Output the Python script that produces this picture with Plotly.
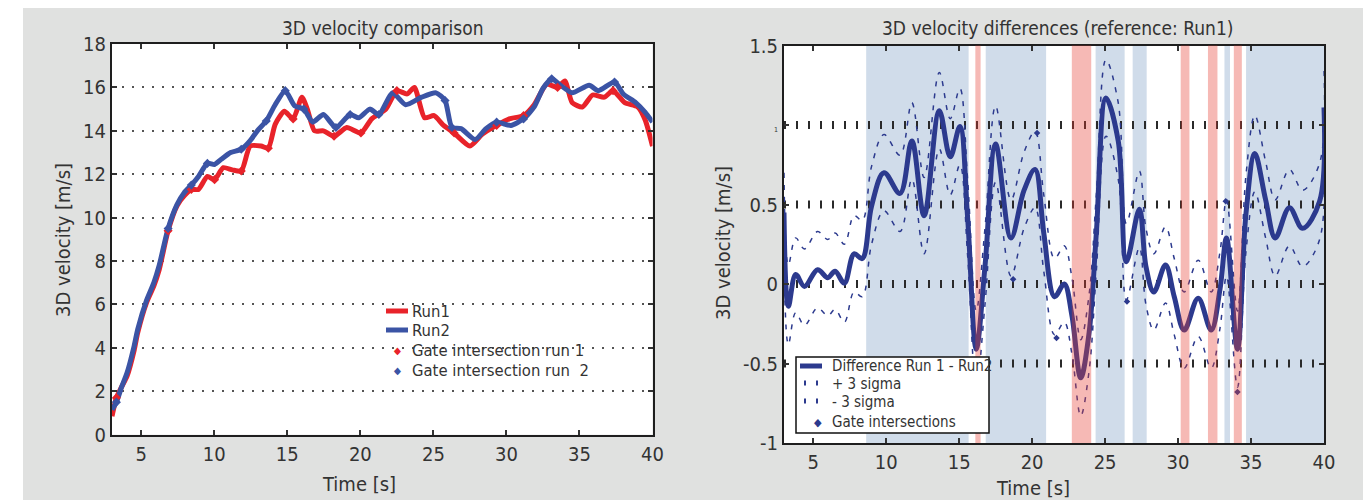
import plotly.graph_objects as go

# ---------------- data: left panel ----------------
run1_t = [3.0, 3.3, 3.66, 4.03, 4.52, 4.76, 5.37, 5.86, 6.23, 6.84, 7.45, 7.94, 8.43, 8.92, 9.53, 10.02,
          10.62, 11.24, 11.85, 12.46, 13.2, 13.7, 14.17, 14.8, 15.4, 16.0, 16.37, 16.86, 17.47, 18.2,
          19.07, 20.04, 20.78, 21.75, 22.5, 23.2, 23.7, 24.4, 25.05, 25.7, 26.42, 27.5, 28.36, 29.33,
          30.2, 31.17, 31.9, 32.76, 33.5, 34.0, 34.5, 35.2, 35.9, 36.7, 37.3, 38.1, 39.0, 39.5, 40.0]
run1_v = [0.85, 1.7, 2.2, 2.7, 3.9, 4.7, 6.1, 6.85, 7.6, 9.4, 10.55, 11.0, 11.3, 11.3, 11.9, 11.75,
          12.3, 12.2, 12.15, 13.3, 13.3, 13.2, 14.3, 14.9, 14.55, 15.55, 15.0, 14.0, 14.0, 13.75,
          14.15, 13.9, 14.55, 15.0, 15.85, 15.7, 16.0, 14.6, 14.7, 14.25, 13.9, 13.3, 13.85, 14.25,
          14.55, 14.7, 15.2, 16.15, 16.0, 16.3, 15.3, 15.1, 15.65, 15.55, 15.85, 15.3, 15.1, 14.5, 13.3]

run2_t = [3.0, 3.3, 3.66, 4.03, 4.52, 4.76, 5.37, 5.86, 6.23, 6.84, 7.45, 7.94, 8.43, 8.92, 9.53, 10.02,
          10.5, 11.12, 11.85, 12.46, 12.95, 13.56, 14.17, 14.86, 15.5, 16.13, 16.74, 17.47, 18.33, 19.3,
          19.9, 20.65, 21.27, 22.2, 23.1, 24.2, 25.18, 25.8, 26.27, 26.89, 27.86, 28.6, 29.33, 30.3,
          31.17, 31.9, 32.5, 33.1, 33.7, 34.5, 35.66, 36.3, 37.4, 38.0, 38.85, 39.5, 40.0]
run2_v = [1.15, 1.5, 2.2, 2.85, 4.1, 4.85, 6.2, 7.0, 7.8, 9.5, 10.6, 11.15, 11.5, 11.9, 12.5, 12.45,
          12.7, 13.0, 13.15, 13.55, 14.0, 14.45, 15.2, 15.85, 15.15, 15.0, 14.4, 14.75, 14.15, 14.75,
          14.6, 15.0, 14.75, 15.75, 15.2, 15.55, 15.75, 15.4, 14.15, 14.1, 13.6, 14.1, 14.4, 14.25,
          14.55, 15.1, 15.95, 16.4, 16.1, 15.75, 16.1, 15.85, 16.25, 15.7, 15.3, 14.85, 14.4]

gate1_t = [3.3, 6.84, 8.43, 10.02, 11.85, 13.7, 15.4, 18.2, 20.04, 22.5, 26.42, 29.33, 31.17, 33.5, 37.3]
gate1_v = [1.7, 9.4, 11.3, 11.75, 12.15, 13.2, 14.55, 13.75, 13.9, 15.85, 13.9, 14.25, 14.7, 16.0, 15.85]
gate2_t = [3.3, 6.84, 8.43, 9.53, 11.85, 13.56, 14.86, 16.13, 18.33, 19.3, 21.27, 25.8, 26.27, 29.33, 31.17, 33.1, 37.4]
gate2_v = [1.5, 9.5, 11.5, 12.5, 13.15, 14.45, 15.85, 15.0, 14.15, 14.75, 14.75, 15.4, 14.15, 14.4, 14.55, 16.4, 16.25]

# ---------------- data: right panel ----------------
diff_t = [3.0, 3.3, 3.8, 4.4, 5.3, 6.0, 6.5, 7.14, 7.8, 8.36, 9.0, 9.85, 10.95, 11.76, 12.6, 13.64,
          14.39, 15.05, 15.58, 16.17, 16.77, 17.5, 18.55, 19.45, 20.2, 20.8, 21.54, 22.2, 22.73, 23.33,
          23.9, 24.4, 25.06, 25.9, 26.46, 27.35, 27.8, 28.34, 29.14, 29.74, 30.42, 31.38, 32.27, 32.87,
          33.32, 34.07, 34.66, 35.26, 36.0, 36.66, 37.63, 38.53, 39.7, 40.0]
diff_v = [0.45, -0.14, 0.06, -0.015, 0.09, 0.04, 0.08, 0.005, 0.19, 0.16, 0.49, 0.70, 0.57, 0.90, 0.43, 1.09,
          0.80, 0.99, 0.42, -0.41, 0.11, 0.88, 0.29, 0.59, 0.72, 0.32, -0.08, 0.0, -0.2, -0.59,
          -0.31, 0.32, 1.17, 0.90, 0.14, 0.47, 0.11, -0.05, 0.12, -0.08, -0.29, -0.09, -0.29, -0.035,
          0.29, -0.41, 0.45, 0.82, 0.53, 0.29, 0.48, 0.35, 0.52, 1.11]
plus3_v = [0.70, 0.12, 0.29, 0.22, 0.33, 0.28, 0.32, 0.25, 0.43, 0.40, 0.74, 0.94, 0.81, 1.14, 0.67, 1.33,
           1.04, 1.23, 0.66, -0.17, 0.35, 1.12, 0.53, 0.83, 0.96, 0.56, 0.16, 0.24, 0.04, -0.35,
           -0.07, 0.56, 1.41, 1.14, 0.38, 0.71, 0.35, 0.19, 0.36, 0.16, -0.05, 0.15, -0.05, 0.20,
           0.53, -0.17, 0.69, 1.06, 0.77, 0.53, 0.72, 0.59, 0.76, 1.35]
minus3_v = [0.20, -0.38, -0.18, -0.26, -0.15, -0.20, -0.16, -0.24, -0.05, -0.08, 0.25, 0.46, 0.33, 0.66, 0.19, 0.85,
            0.56, 0.75, 0.18, -0.65, -0.13, 0.64, 0.05, 0.35, 0.48, 0.08, -0.32, -0.24, -0.44, -0.83,
            -0.55, 0.08, 0.93, 0.66, -0.10, 0.23, -0.13, -0.29, -0.12, -0.32, -0.53, -0.33, -0.53, -0.28,
            0.05, -0.65, 0.21, 0.58, 0.29, 0.05, 0.24, 0.11, 0.28, 0.87]
gateR_t = [18.7, 20.34, 21.67, 26.5, 33.27, 34.07]
gateR_v = [0.03, 0.95, -0.34, -0.11, 0.52, -0.68]

blue_bands = [(8.63, 15.65), (16.82, 20.96), (24.35, 26.34), (26.89, 27.85), (33.18, 33.56), (34.66, 40.0)]
red_bands = [(16.11, 16.47), (22.72, 24.05), (30.18, 30.78), (32.05, 32.70), (33.82, 34.37)]

x_ticks = [5, 10, 15, 20, 25, 30, 35, 40]
left_y_ticks = [0, 2, 4, 6, 8, 10, 12, 14, 16, 18]
right_y_ticks = [-1, -0.5, 0, 0.5, 1, 1.5]
right_y_text = ["-1", "-0.5", "0", "0.5", '<span style="font-size:7px">1</span>', "1.5"]
grid_levels_right = [1, 0.5, 0, -0.5]

# ---------------- styles ----------------
FONT = "DejaVu Sans Condensed, Liberation Sans Narrow, Liberation Sans, sans-serif"
TXT = "#333333"
RED = "#e8232a"
BLUE = "#3b54a5"
NAVY = "#2c3a8e"
GRAY = "#e0e1e0"
W, H = 1371, 500
OFF = 8  # page body margin


def px(x):
    return (x - OFF) / W


def py(y):
    return 1 - (y - OFF) / H


fig = go.Figure()

# left panel traces
fig.add_trace(go.Scatter(x=run1_t, y=run1_v, mode="lines", line=dict(color=RED, width=5, shape="spline", smoothing=0.6),
                         xaxis="x", yaxis="y", showlegend=False))
fig.add_trace(go.Scatter(x=run2_t, y=run2_v, mode="lines", line=dict(color=BLUE, width=5, shape="spline", smoothing=0.6),
                         xaxis="x", yaxis="y", showlegend=False))
fig.add_trace(go.Scatter(x=gate1_t, y=gate1_v, mode="markers", marker=dict(symbol="diamond", size=7, color=RED),
                         xaxis="x", yaxis="y", showlegend=False))
fig.add_trace(go.Scatter(x=gate2_t, y=gate2_v, mode="markers", marker=dict(symbol="diamond", size=7, color=BLUE),
                         xaxis="x", yaxis="y", showlegend=False))

# right panel traces
fig.add_trace(go.Scatter(x=diff_t, y=plus3_v, mode="lines", line=dict(color=NAVY, width=1.5, dash="5px,7px", shape="spline"),
                         xaxis="x2", yaxis="y2", showlegend=False))
fig.add_trace(go.Scatter(x=diff_t, y=minus3_v, mode="lines", line=dict(color=NAVY, width=1.5, dash="5px,7px", shape="spline"),
                         xaxis="x2", yaxis="y2", showlegend=False))
fig.add_trace(go.Scatter(x=diff_t, y=diff_v, mode="lines", line=dict(color=NAVY, width=5, shape="spline", smoothing=1.0),
                         xaxis="x2", yaxis="y2", showlegend=False))
fig.add_trace(go.Scatter(x=gateR_t, y=gateR_v, mode="markers", marker=dict(symbol="diamond", size=5, color=NAVY),
                         xaxis="x2", yaxis="y2", showlegend=False))

shapes = []
# white strip on the left outside the grey panel
shapes.append(dict(type="rect", xref="paper", yref="paper", x0=px(0), x1=px(23), y0=-0.1, y1=1.1,
                   fillcolor="white", line=dict(width=0), layer="below"))
# blue bands
for a, b in blue_bands:
    shapes.append(dict(type="rect", xref="x2", yref="y2 domain", x0=a, x1=b, y0=0, y1=1,
                       fillcolor="#d0dcea", line=dict(width=0), layer="below"))
# tick-style grid lines on right panel
for lv in grid_levels_right:
    shapes.append(dict(type="line", xref="x2 domain", yref="y2", x0=0, x1=1, y0=lv, y1=lv,
                       line=dict(color="#2a2a2a", width=8, dash="2px,10px"), layer="below"))
# red bands (translucent, above)
for a, b in red_bands:
    shapes.append(dict(type="rect", xref="x2", yref="y2 domain", x0=a, x1=b, y0=0, y1=1,
                       fillcolor="rgba(230,60,50,0.36)", line=dict(width=0), layer="above"))

# ---- left legend (manual) ----
shapes.append(dict(type="line", xref="paper", yref="paper", x0=px(386), x1=px(408), y0=py(311), y1=py(311),
                   line=dict(color=RED, width=5), layer="above"))
shapes.append(dict(type="line", xref="paper", yref="paper", x0=px(386), x1=px(408), y0=py(330), y1=py(330),
                   line=dict(color=BLUE, width=5), layer="above"))
# ---- right legend (manual) ----
shapes.append(dict(type="rect", xref="paper", yref="paper", x0=px(796), x1=px(989), y0=py(433), y1=py(357),
                   fillcolor="white", line=dict(color="#111111", width=1.5), layer="above"))
shapes.append(dict(type="line", xref="paper", yref="paper", x0=px(800), x1=px(822), y0=py(366), y1=py(366),
                   line=dict(color=NAVY, width=5), layer="above"))
for yy in (383, 401):
    shapes.append(dict(type="line", xref="paper", yref="paper", x0=px(804), x1=px(822), y0=py(yy), y1=py(yy),
                       line=dict(color=NAVY, width=5, dash="2px,10px"), layer="above"))

annotations = []


def txt(x, y, s, size, xanchor="left", yanchor="middle", angle=0, color=TXT):
    annotations.append(dict(text=s, x=px(x), y=py(y), xref="paper", yref="paper", showarrow=False,
                            xanchor=xanchor, yanchor=yanchor, textangle=angle,
                            font=dict(family=FONT, size=size, color=color)))


# titles and axis titles
txt(383, 28, "3D velocity comparison", 19, "center")
txt(1057, 28, "3D velocity differences (reference: Run1)", 19, "center")
txt(359, 484, "Time [s]", 20, "center")
txt(1033, 488, "Time [s]", 20, "center")
txt(63, 240, "3D velocity [m/s]", 20, "center", angle=-90)
txt(723, 243, "3D velocity [m/s]", 20, "center", angle=-90)

# left legend texts
txt(410, 311, "Run1", 16.5)
txt(410, 330, "Run2", 16.5)
txt(410, 350, "Gate intersection run 1", 16.5)
txt(410, 370, "Gate intersection run  2", 16.5)
txt(397, 350, "◆", 10, "center", color=RED)
txt(397, 370, "◆", 10, "center", color=BLUE)
# right legend texts
txt(830, 366, "Difference Run 1 - Run2", 15)
txt(830, 384, "+ 3 sigma", 15)
txt(830, 402, "- 3 sigma", 15)
txt(830, 422, "Gate intersections", 15)
txt(818, 422, "◆", 11, "center", color=NAVY)

axis_common = dict(showline=True, linecolor="#1e1e1e", linewidth=2, mirror="ticks", ticks="inside",
                   ticklen=5, tickcolor="#333333", tickwidth=1.5, zeroline=False,
                   tickfont=dict(family=FONT, size=20, color=TXT))

fig.update_layout(
    width=W, height=H,
    margin=dict(l=0, r=0, t=0, b=0, autoexpand=False),
    paper_bgcolor=GRAY, plot_bgcolor="white",
    showlegend=False,
    xaxis=dict(domain=[px(112), px(652.5)], range=[3, 40], tickvals=x_ticks, showgrid=False,
               anchor="y", **axis_common),
    yaxis=dict(domain=[py(434.7), py(44)], range=[0, 18], tickvals=left_y_ticks, showgrid=True,
               gridcolor="#555555", gridwidth=1.5, griddash="1.5px,8.5px", anchor="x", **axis_common),
    xaxis2=dict(domain=[px(784), px(1324)], range=[3, 40], tickvals=x_ticks, showgrid=False,
                anchor="y2", **axis_common),
    yaxis2=dict(domain=[py(443), py(45.5)], range=[-1, 1.5], tickvals=right_y_ticks, ticktext=right_y_text,
                showgrid=False, anchor="x2", **axis_common),
    shapes=shapes,
    annotations=annotations,
)

fig.write_html("out.html")
